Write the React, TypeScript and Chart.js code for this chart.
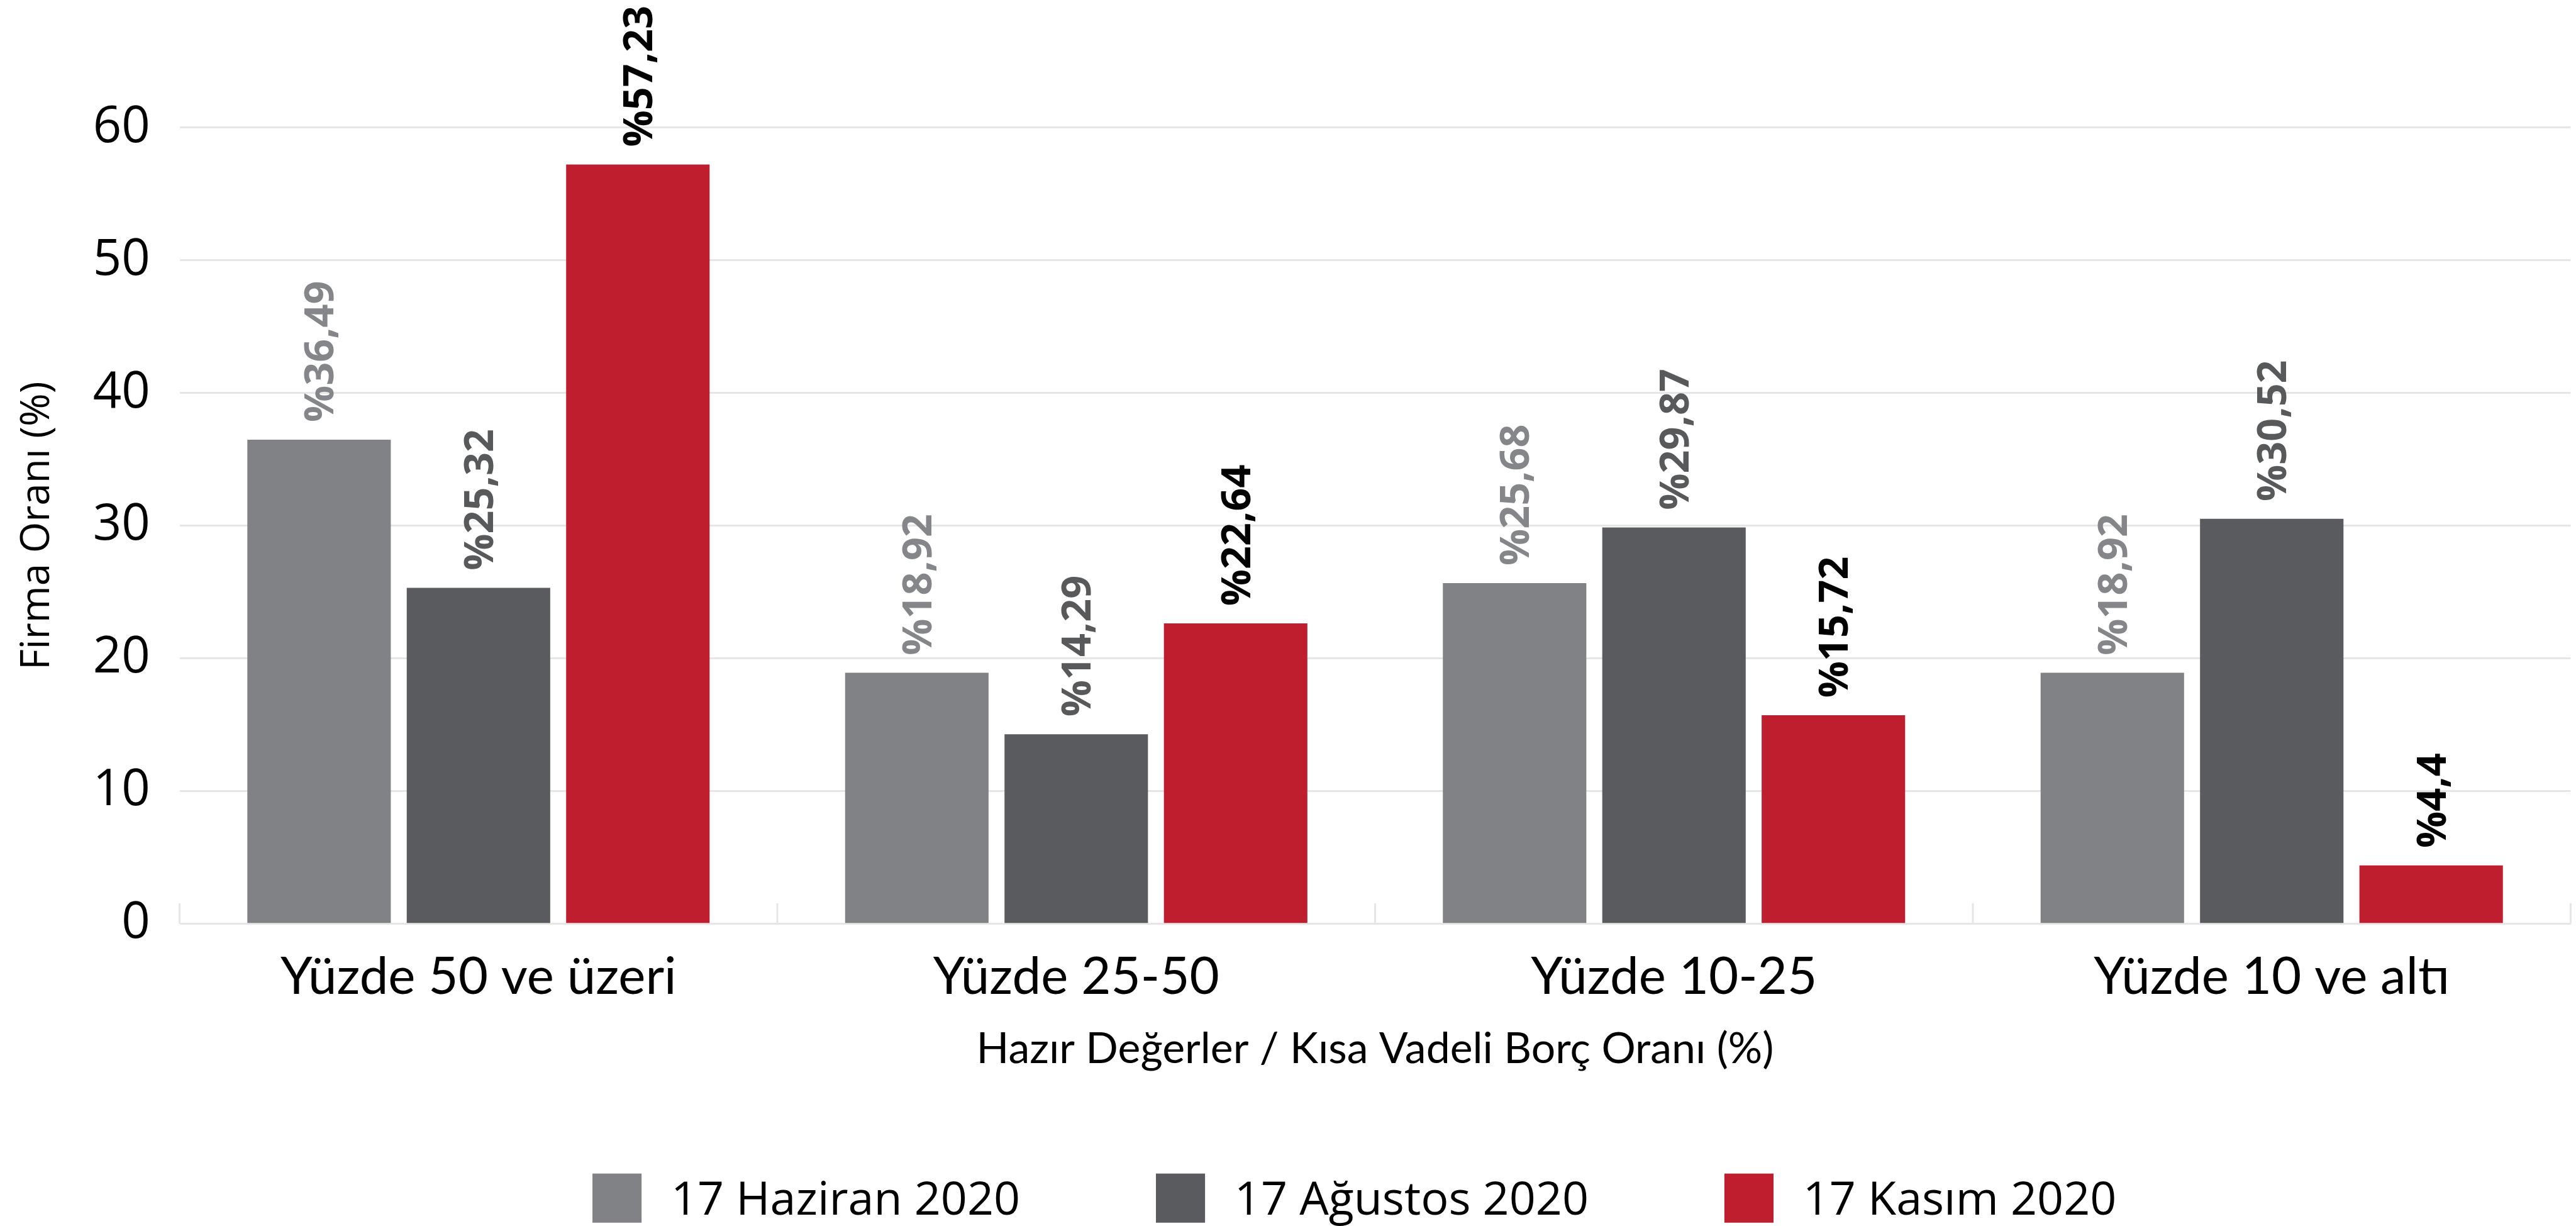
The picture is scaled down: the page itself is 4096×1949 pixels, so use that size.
import React, { useEffect, useRef } from 'react';
import { Chart, registerables } from 'chart.js';

Chart.register(...registerables);

// ---------- data ----------
const categories = ['Yüzde 50 ve üzeri', 'Yüzde 25-50', 'Yüzde 10-25', 'Yüzde 10 ve altı'];
const seriesNames = ['17 Haziran 2020', '17 Ağustos 2020', '17 Kasım 2020'];
const haziran = [36.49, 18.92, 25.68, 18.92];
const agustos = [25.32, 14.29, 29.87, 30.52];
const kasim = [57.23, 22.64, 15.72, 4.4];
const yTickValues = [0, 10, 20, 30, 40, 50, 60];
const yTitle = 'Firma Oranı (%)';
const xTitle = 'Hazır Değerler / Kısa Vadeli Borç Oranı (%)';

// ---------- styles ----------
const S = 0.995;
const W = 4096;
const H = 1949;
const barColors = ['#818286', '#5a5b5e', '#be1e2e'];
const labelColors = ['#85868a', '#58595b', '#000000'];

const fmt = (v: number) => '%' + String(v).replace('.', ',');

const overlayPlugin = {
  id: 'overlay',
  beforeDatasetsDraw(chart: any) {
    const ctx = chart.ctx;
    const xs = chart.scales.x;
    const n = chart.data.labels.length;
    const bottom = chart.chartArea.bottom;
    ctx.save();
    ctx.strokeStyle = '#e6e6e6';
    ctx.lineWidth = 3 * S;
    for (let i = 0; i <= n; i++) {
      const x = xs.left + (i * (xs.right - xs.left)) / n;
      ctx.beginPath();
      ctx.moveTo(x, bottom);
      ctx.lineTo(x, bottom - 33 * S);
      ctx.stroke();
    }
    ctx.restore();
  },
  afterDatasetsDraw(chart: any) {
    const ctx = chart.ctx;
    const size = 65 * S;
    chart.data.datasets.forEach((ds: any, di: number) => {
      const meta = chart.getDatasetMeta(di);
      meta.data.forEach((bar: any, i: number) => {
        const text = fmt(ds.data[i]);
        ctx.save();
        ctx.translate(bar.x, bar.y - 28 * S);
        ctx.rotate(-Math.PI / 2);
        ctx.font = `bold ${size}px "Open Sans"`;
        ctx.fillStyle = labelColors[di];
        ctx.textAlign = 'left';
        ctx.textBaseline = 'alphabetic';
        ctx.fillText(text, 0, (0.714 * size) / 2);
        ctx.restore();
      });
    });
  },
  afterDraw(chart: any) {
    const ctx = chart.ctx;
    const fontSize = 74 * S;
    const box = 78.5 * S;
    const boxGap = 47 * S;
    const itemGap = 217 * S;
    const centerX = 2164.5 * S;
    const boxTop = 1875 * S;
    const baseY = 1941 * S;
    ctx.save();
    ctx.font = `${fontSize}px "Open Sans"`;
    const items = chart.data.datasets.map((ds: any) => ({
      text: ds.label,
      color: ds.backgroundColor,
      w: ctx.measureText(ds.label).width,
    }));
    let total = 0;
    items.forEach((it: any, i: number) => {
      total += box + boxGap + it.w + (i < items.length - 1 ? itemGap : 0);
    });
    let x = centerX - total / 2;
    items.forEach((it: any) => {
      ctx.fillStyle = it.color;
      ctx.fillRect(x, boxTop, box, box);
      ctx.fillStyle = '#000';
      ctx.textAlign = 'left';
      ctx.textBaseline = 'alphabetic';
      ctx.fillText(it.text, x + box + boxGap, baseY);
      x += box + boxGap + it.w + itemGap;
    });
    ctx.restore();
  },
};

export default function App() {
  const ref = useRef<HTMLCanvasElement | null>(null);

  useEffect(() => {
    document.body.style.margin = '0';
    const canvas = ref.current;
    if (!canvas) return;
    const xTickSize = 82 * S;
    const xTitleSize = 68.3 * S;
    const xTickPad = 29.8 - (82 - 78) * S * 0.5;
    const xTitlePadTop = 33.3;
    const xScaleH = xTickPad + xTickSize * 1.2 + xTitleSize * 1.2 + xTitlePadTop;
    const chartBottom = 1476 * S;
    const chart = new Chart(canvas, {
      type: 'bar',
      data: {
        labels: categories,
        datasets: [
          { label: seriesNames[0], data: haziran, backgroundColor: barColors[0] },
          { label: seriesNames[1], data: agustos, backgroundColor: barColors[1] },
          { label: seriesNames[2], data: kasim, backgroundColor: barColors[2] },
        ],
      },
      options: {
        responsive: false,
        animation: false,
        devicePixelRatio: 1,
        layout: {
          padding: {
            top: 204 * S,
            right: W - 4108 * S,
            left: 0,
            bottom: H - chartBottom - xScaleH,
          },
        },
        plugins: {
          legend: { display: false },
          tooltip: { enabled: false },
          title: { display: false },
        },
        datasets: {
          bar: { categoryPercentage: 0.8, barPercentage: 0.9 },
        },
        scales: {
          x: {
            grid: { display: false },
            border: { display: false },
            ticks: {
              font: { family: 'Lato', size: xTickSize },
              color: '#000',
              padding: xTickPad,
              maxRotation: 0,
              minRotation: 0,
            },
            title: {
              display: true,
              text: xTitle,
              font: { family: 'Lato', size: xTitleSize },
              color: '#000',
              padding: { top: xTitlePadTop, bottom: 0 },
            },
            afterFit: (scale: any) => {
              scale.height = xScaleH;
            },
          },
          y: {
            min: 0,
            max: 60,
            afterBuildTicks: (axis: any) => {
              axis.ticks = yTickValues.map((v) => ({ value: v }));
            },
            ticks: {
              font: { family: 'Open Sans', size: 80 * S },
              color: '#000',
              padding: 47 * S,
            },
            grid: { color: '#e6e6e6', lineWidth: 3 * S, drawTicks: false },
            border: { display: false },
            title: {
              display: true,
              text: yTitle,
              font: { family: 'Open Sans', size: 64 * S },
              color: '#000',
              padding: { top: 21.4, bottom: 0 },
            },
            afterFit: (scale: any) => {
              scale.width = 287 * S;
            },
          },
        },
      },
      plugins: [overlayPlugin],
    } as any);
    return () => chart.destroy();
  }, []);

  return (
    <div style={{ position: 'fixed', left: 0, top: 0, width: W, height: H, background: '#fff' }}>
      <canvas ref={ref} width={W} height={H} style={{ width: W, height: H, display: 'block' }} />
    </div>
  );
}
